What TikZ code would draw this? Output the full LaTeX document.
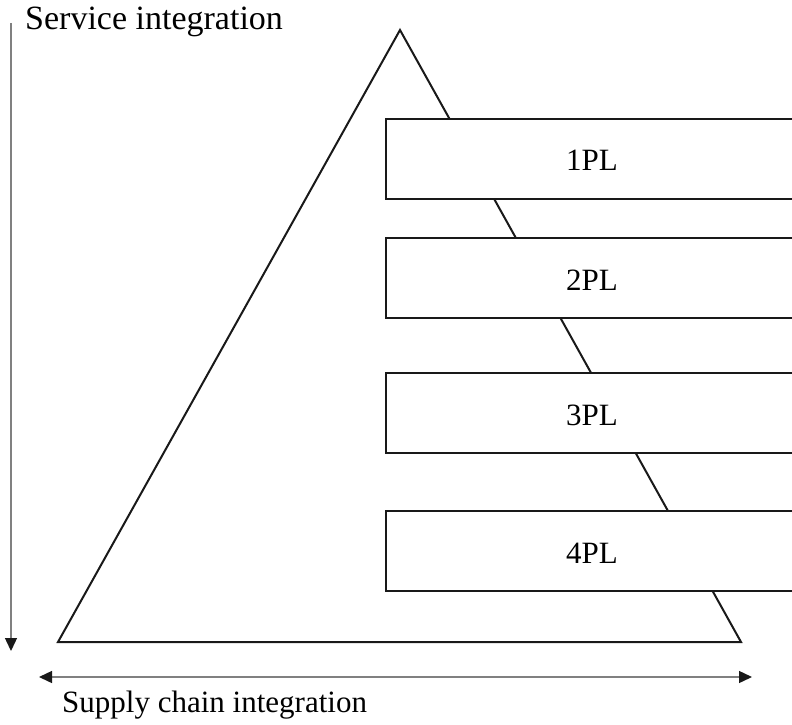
\documentclass[tikz,border=0pt]{standalone}
\usepackage{fontspec}
\setmainfont{Liberation Serif}
\usetikzlibrary{arrows.meta}
\begin{document}
\begin{tikzpicture}[x=1pt,y=-1pt,
  edge/.style={line width=2pt,black!90},
  level/.style={draw=black!90,line width=2pt,fill=white,minimum width=414pt,minimum height=80pt,inner sep=0pt},
  lbl/.style={font=\fontsize{31}{36}\selectfont,inner sep=0pt},
  axis/.style={draw=black!50,line width=1.4pt},
  head/.tip={Triangle[length=13pt,width=12pt,color=black!90]}]
\useasboundingbox (0,0) rectangle (792,725);
% pyramid outline
\coordinate (apex) at (400,30);
\coordinate (bl) at (58,642);
\coordinate (br) at (741,642);
\draw[edge,line join=miter] (apex) -- (bl) -- (br) -- cycle;
% provider levels
\node[level] (l1) at (593,158.5) {};
\node[level] (l2) at (593,278) {};
\node[level] (l3) at (593,413) {};
\node[level] (l4) at (593,551) {};
\node[lbl] at (592,160) {1PL};
\node[lbl] at (592,280) {2PL};
\node[lbl] at (592,415) {3PL};
\node[lbl] at (592,553) {4PL};
% axes
\coordinate (vtop) at (11,23);
\coordinate (vbot) at (11,651);
\coordinate (hl) at (39,677);
\coordinate (hr) at (752,677);
\draw[axis,-head] (vtop) -- (vbot);
\draw[axis,head-head] (hl) -- (hr);
\node[lbl,font=\fontsize{34}{40}\selectfont,anchor=base west] (sv) at (25,30) {Service integration};
\node[lbl,anchor=base west] (sc) at (62,712) {Supply chain integration};
\end{tikzpicture}
\end{document}
